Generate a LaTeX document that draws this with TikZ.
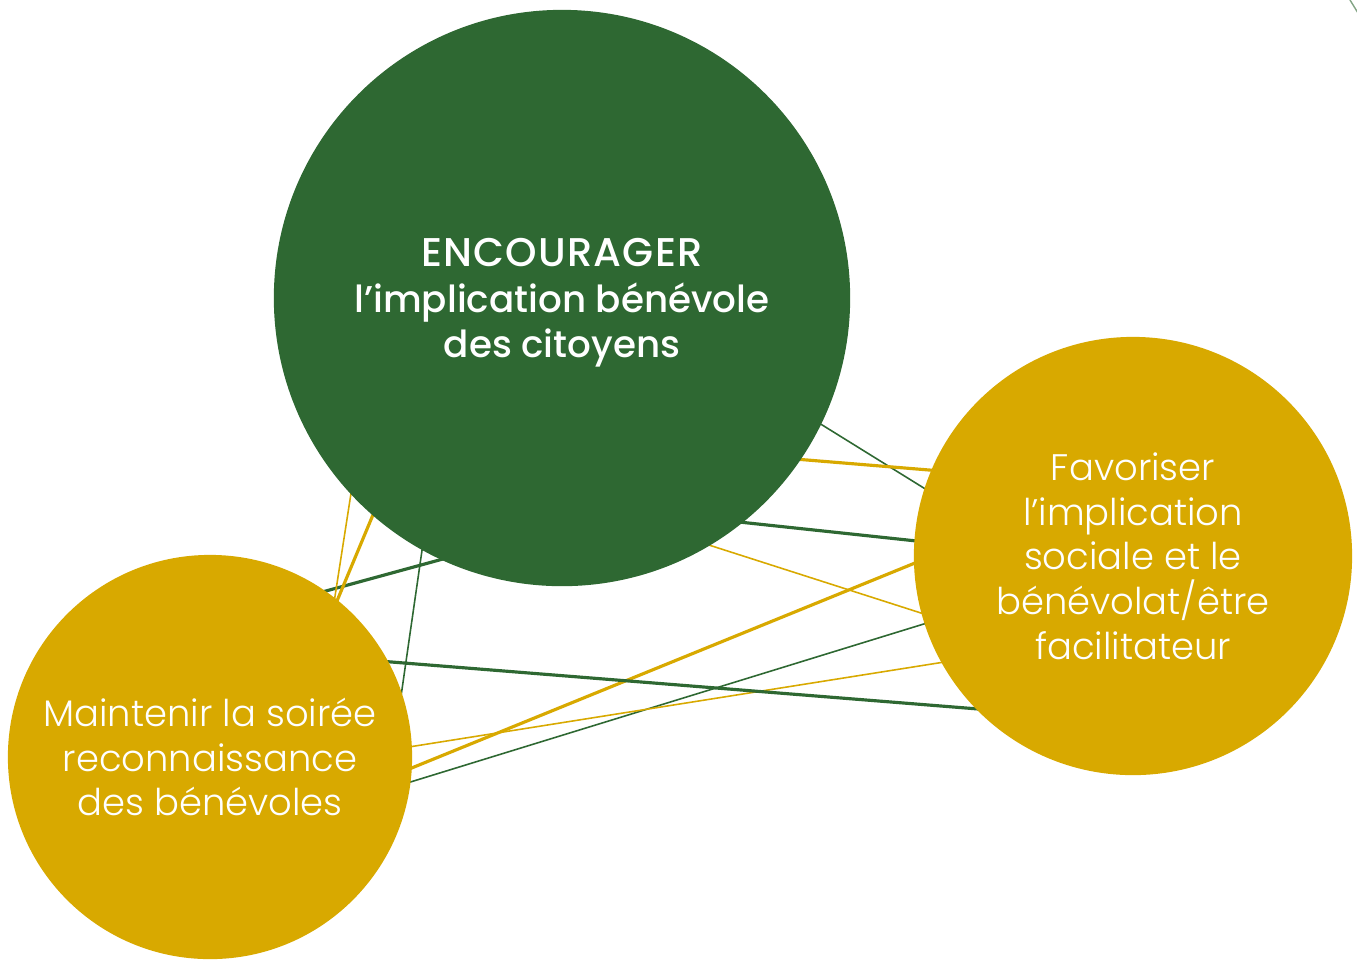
\documentclass[tikz,border=0pt]{standalone}
\usepackage{fontspec}
\setmainfont{Poppins}
\newfontfamily\lightfont{Poppins Light}
\newfontfamily\mediumfont{Poppins Medium}
\usetikzlibrary{backgrounds}

\definecolor{forest}{RGB}{46, 104, 50}
\definecolor{mustard}{RGB}{216, 169, 0}

\begin{document}
\begin{tikzpicture}[x = 0.01cm, y = -0.01cm,
	bubble/.style = {circle, inner sep = 0pt, text = white, align = center, font = \lightfont\fontsize{10.5}{12.7}\selectfont},
	thinlink/.style = {line width = 0.45pt, shorten <= -2pt, shorten >= -2pt},
	thicklink/.style = {line width = 0.9pt, shorten <= -2pt, shorten >= -2pt}]

	\useasboundingbox (0, 0) rectangle (1357, 959);

	% Circles

	\node [bubble, fill = forest, minimum size = 5.76cm, font = \mediumfont\fontsize{10.6}{12.8}\selectfont] (encourager) at (562, 298) {\rule{0pt}{10.7pt}{\fontsize{11.4}{12.8}\selectfont\addfontfeature{LetterSpace = 3}ENCOURAGER}\\l’implication bénévole\\des citoyens};
	\node [bubble, fill = mustard, minimum size = 4.38cm] (favoriser) at (1133, 556) {Favoriser\\l’implication\\sociale et le\\bénévolat/être\\facilitateur};
	\node [bubble, fill = mustard, minimum size = 4.04cm] (maintenir) at (210, 757) {Maintenir la soirée\\reconnaissance\\des bénévoles};

	% Links

	\begin{scope}[on background layer]
		\draw [thinlink, forest] (encourager.-26.2) -- (favoriser.162.9);
		\draw [thicklink, mustard] (encourager.-34.4) -- (favoriser.157.3);
		\draw [thicklink, forest] (encourager.-51.6) -- (favoriser.176.6);
		\draw [thinlink, mustard] (encourager.-59.1) -- (favoriser.195);

		\draw [thicklink, mustard] (maintenir.-3.7) -- (favoriser.182.4);
		\draw [thinlink, forest] (maintenir.-7) -- (favoriser.198.4);
		\draw [thinlink, mustard] (maintenir.3.7) -- (favoriser.209.5);
		\draw [thicklink, forest] (maintenir.28.5) -- (favoriser.224.5);

		\draw [thicklink, forest] (maintenir.55.1) -- (encourager.245.6);
		\draw [thinlink, forest] (maintenir.19.4) -- (encourager.241.7);
		\draw [thinlink, mustard] (maintenir.52) -- (encourager.223.5);
		\draw [thicklink, mustard] (maintenir.51) -- (encourager.229.4);
	\end{scope}

	% Corner stroke

	\coordinate (cornerA) at (1350, 0);
	\coordinate (cornerB) at (1358, 13);
	\draw [line width = 0.4pt, forest!60] (cornerA) -- (cornerB);

\end{tikzpicture}
\end{document}
